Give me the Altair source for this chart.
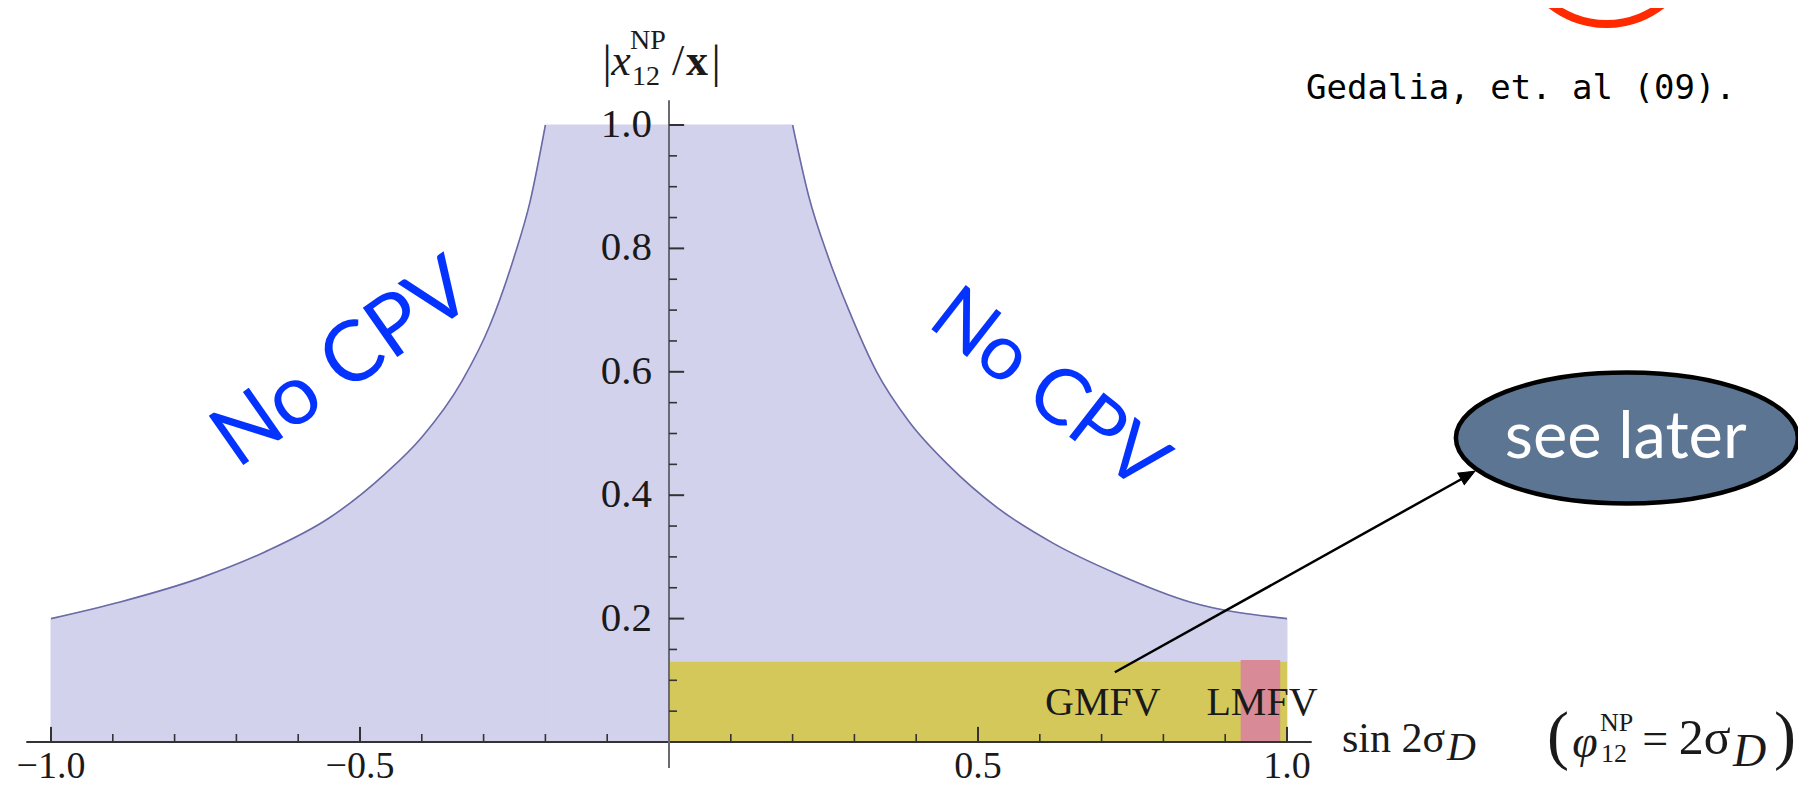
import altair as alt
import pandas as pd

# ---------------- data ----------------
# boundary of the allowed (shaded) region: left branch, flat top, right branch
left_x = [-1.0, -0.888, -0.758, -0.654, -0.550, -0.459, -0.400, -0.335, -0.290, -0.251, -0.225, -0.200]
left_y = [0.200, 0.227, 0.266, 0.308, 0.363, 0.435, 0.494, 0.585, 0.675, 0.785, 0.875, 1.0]
right_x = [0.200, 0.226, 0.258, 0.291, 0.336, 0.388, 0.453, 0.531, 0.622, 0.726, 0.843, 1.0]
right_y = [1.0, 0.885, 0.785, 0.700, 0.600, 0.520, 0.448, 0.380, 0.322, 0.272, 0.227, 0.200]

# GMFV (yellow) and LMFV (pink) bands: [x0, x1], [y0, y1]
gmfv_x = [0.0, 1.0]
gmfv_y = [0.0, 0.130]
lmfv_x = [0.925, 0.989]
lmfv_y = [0.0, 0.133]

# axes
x_major = [-1.0, -0.5, 0.5, 1.0]
x_major_labels = ["\u22121.0", "\u22120.5", "0.5", "1.0"]
x_minor = [-0.9, -0.8, -0.7, -0.6, -0.4, -0.3, -0.2, -0.1,
           0.1, 0.2, 0.3, 0.4, 0.6, 0.7, 0.8, 0.9]
y_major = [0.2, 0.4, 0.6, 0.8, 1.0]
y_major_labels = ["0.2", "0.4", "0.6", "0.8", "1.0"]
y_minor = [0.05, 0.1, 0.15, 0.25, 0.3, 0.35, 0.45, 0.5, 0.55,
           0.65, 0.7, 0.75, 0.85, 0.9, 0.95]
axis_extent = [-1.04, 1.04]

# ---------------- scales ----------------
X_DOM = [-1.069579, 1.826861]
Y_DOM = [-0.072934, 1.189627]
SERIF = "Liberation Serif"


def X(f):
    return alt.X(f, type="quantitative", axis=None,
                 scale=alt.Scale(domain=X_DOM, nice=False, zero=False))


def Y(f):
    return alt.Y(f, type="quantitative", axis=None,
                 scale=alt.Scale(domain=Y_DOM, nice=False, zero=False))


FILL = "#d3d2ec"

curve_df = pd.DataFrame({
    "x": left_x + right_x,
    "y": left_y + right_y,
    "y0": 0.0,
    "side": ["L"] * len(left_x) + ["R"] * len(right_x),
})

area = alt.Chart(curve_df).mark_area(
    interpolate="monotone", color=FILL, stroke=FILL, strokeWidth=1
).encode(x=X("x"), y=Y("y"), y2=alt.Y2("y0"), detail="side:N")

mid_df = pd.DataFrame({"x": [left_x[-1]], "x2": [right_x[0]],
                       "y": [0.0], "y2": [left_y[-1]]})
mid = alt.Chart(mid_df).mark_rect(color=FILL, stroke=FILL, strokeWidth=1).encode(
    x=X("x"), x2=alt.X2("x2"), y=Y("y"), y2=alt.Y2("y2"))

line = alt.Chart(curve_df).mark_line(
    interpolate="monotone", color="#6a6aa6", strokeWidth=1.6
).encode(x=X("x"), y=Y("y"), detail="side:N")

band_df = pd.DataFrame({
    "x": [gmfv_x[0], lmfv_x[0]], "x2": [gmfv_x[1], lmfv_x[1]],
    "y": [gmfv_y[0], lmfv_y[0]], "y2": [gmfv_y[1], lmfv_y[1]],
    "c": ["#d4c85b", "#d88b97"],
})
bands = alt.Chart(band_df).mark_rect().encode(
    x=X("x"), x2=alt.X2("x2"), y=Y("y"), y2=alt.Y2("y2"),
    color=alt.Color("c:N", scale=None))

# ---------------- hand-drawn axes through the origin ----------------
xaxis = alt.Chart(pd.DataFrame({"x": [axis_extent[0]], "x2": [axis_extent[1]], "y": [0.0]})).mark_rule(
    color="#333333", strokeWidth=2).encode(x=X("x"), x2=alt.X2("x2"), y=Y("y"))
yaxis = alt.Chart(pd.DataFrame({"x": [0.0], "y": [-0.042], "y2": [axis_extent[1]]})).mark_rule(
    color="#6a6a74", strokeWidth=2).encode(x=X("x"), y=Y("y"), y2=alt.Y2("y2"))

xt_major = alt.Chart(pd.DataFrame({"x": x_major, "y": 0.0, "y2": 0.0245})).mark_rule(
    color="#333333", strokeWidth=2).encode(x=X("x"), y=Y("y"), y2=alt.Y2("y2"))
xt_minor = alt.Chart(pd.DataFrame({"x": x_minor, "y": 0.0, "y2": 0.013})).mark_rule(
    color="#333333", strokeWidth=1.6).encode(x=X("x"), y=Y("y"), y2=alt.Y2("y2"))
yt_major = alt.Chart(pd.DataFrame({"y": y_major, "x": 0.0, "x2": 0.0245})).mark_rule(
    color="#333333", strokeWidth=2).encode(y=Y("y"), x=X("x"), x2=alt.X2("x2"))
yt_minor = alt.Chart(pd.DataFrame({"y": y_minor, "x": 0.0, "x2": 0.013})).mark_rule(
    color="#333333", strokeWidth=1.6).encode(y=Y("y"), x=X("x"), x2=alt.X2("x2"))

xlab = alt.Chart(pd.DataFrame({"x": x_major, "y": -0.0583, "t": x_major_labels})).mark_text(
    font=SERIF, fontSize=38, align="center", baseline="alphabetic", color="#1a1a1a"
).encode(x=X("x"), y=Y("y"), text="t:N")
ylab = alt.Chart(pd.DataFrame({"y": y_major, "x": -0.0275, "t": y_major_labels})).mark_text(
    font=SERIF, fontSize=41, align="right", baseline="middle", color="#1a1a1a"
).encode(x=X("x"), y=Y("y"), text="t:N")


def txt(text, x, y, size, font=SERIF, align="center", baseline="alphabetic",
        color="#1a1a1a", style="normal", weight="normal", angle=0):
    df = pd.DataFrame({"x": [x], "y": [y], "t": [text]})
    m = dict(align=align, baseline=baseline, fontSize=size, font=font,
             color=color, fontStyle=style, fontWeight=weight)
    if angle:
        m["angle"] = angle
    return alt.Chart(df).mark_text(**m).encode(x=X("x"), y=Y("y"), text="t:N")


annotations = [
    # region labels
    txt("GMFV", 0.702, 0.044, 40),
    txt("LMFV", 0.9595, 0.044, 40),
    # x-axis title
    txt("sin 2\u03c3", 1.089, -0.0162, 42, align="left"),
    txt("D", 1.259, -0.029, 40, align="left", style="italic"),
    # (phi_12^NP = 2 sigma_D)
    txt("(", 1.4385, -0.0243, 66),
    txt("\u03c6", 1.482, -0.0243, 46, style="italic"),
    txt("NP", 1.5065, 0.0178, 26, align="left"),
    txt("12", 1.508, -0.0324, 26, align="left"),
    txt("=", 1.596, -0.0194, 46),
    txt("2\u03c3", 1.634, -0.0194, 50, align="left"),
    txt("D", 1.7217, -0.0389, 46, align="left", style="italic"),
    txt(")", 1.806, -0.0243, 66),
    # y-axis title |x_12^NP / x|
    txt("|", -0.1003, 1.078, 46),
    txt("x", -0.0777, 1.081, 44, style="italic"),
    txt("NP", -0.0631, 1.123, 28, align="left"),
    txt("12", -0.0599, 1.065, 28, align="left"),
    txt("/", 0.0146, 1.081, 44),
    txt("x", 0.0453, 1.081, 44, weight="bold"),
    txt("|", 0.0761, 1.078, 46),
    # reference
    txt("Gedalia, et. al (09).", 1.0307, 1.0421, 34, font="DejaVu Sans Mono",
        align="left", color="#000000"),
    # No CPV
    txt("No CPV", -0.527, 0.612, 84, font="Lato", baseline="middle",
        color="#0433ff", angle=325),
    txt("No CPV", 0.613, 0.569, 78, font="Lato", baseline="middle",
        color="#0433ff", angle=38),
]

# arrow from GMFV to the "see later" bubble
arrow_df = pd.DataFrame({"x": [0.7215], "y": [0.113], "x2": [1.300], "y2": [0.436]})
arrow = alt.Chart(arrow_df).mark_rule(color="black", strokeWidth=2.5).encode(
    x=X("x"), y=Y("y"), x2=alt.X2("x2"), y2=alt.Y2("y2"))
head = alt.Chart(pd.DataFrame({"x": [1.304], "y": [0.439]})).mark_point(
    shape="M0,0 L0.42,1 L-0.42,1 Z", size=1000, filled=True, fill="black",
    stroke="black", strokeWidth=1, opacity=1, angle=60.8
).encode(x=X("x"), y=Y("y"))

# "see later" bubble
bubble = alt.Chart(pd.DataFrame({"x": [1.550], "y": [0.4927]})).mark_point(
    shape="M-1,0 A1,0.383 0 1,0 1,0 A1,0.383 0 1,0 -1,0 Z",
    size=116964, filled=True, fill="#5b7593", stroke="black", strokeWidth=4.5,
    opacity=1
).encode(x=X("x"), y=Y("y"))
bubble_text = txt("see later", 1.548, 0.4603, 65, font="Lato", color="white")

# red circle cut by the top edge
red_arc = alt.Chart(pd.DataFrame({"x": [1.517], "y": [1.3096]})).mark_point(
    shape="circle", size=32400, filled=False, stroke="#ff2a00", strokeWidth=8,
    opacity=1
).encode(x=X("x"), y=Y("y"))

chart = alt.layer(
    area, mid, line, bands,
    xaxis, yaxis, xt_major, xt_minor, yt_major, yt_minor, xlab, ylab,
    *annotations, arrow, head, bubble, bubble_text, red_arc
).properties(
    width=1790, height=779, padding=0, autosize="none", background="white"
).configure_view(strokeWidth=0)

chart.save("out.html", embed_options={"renderer": "svg", "actions": False})
